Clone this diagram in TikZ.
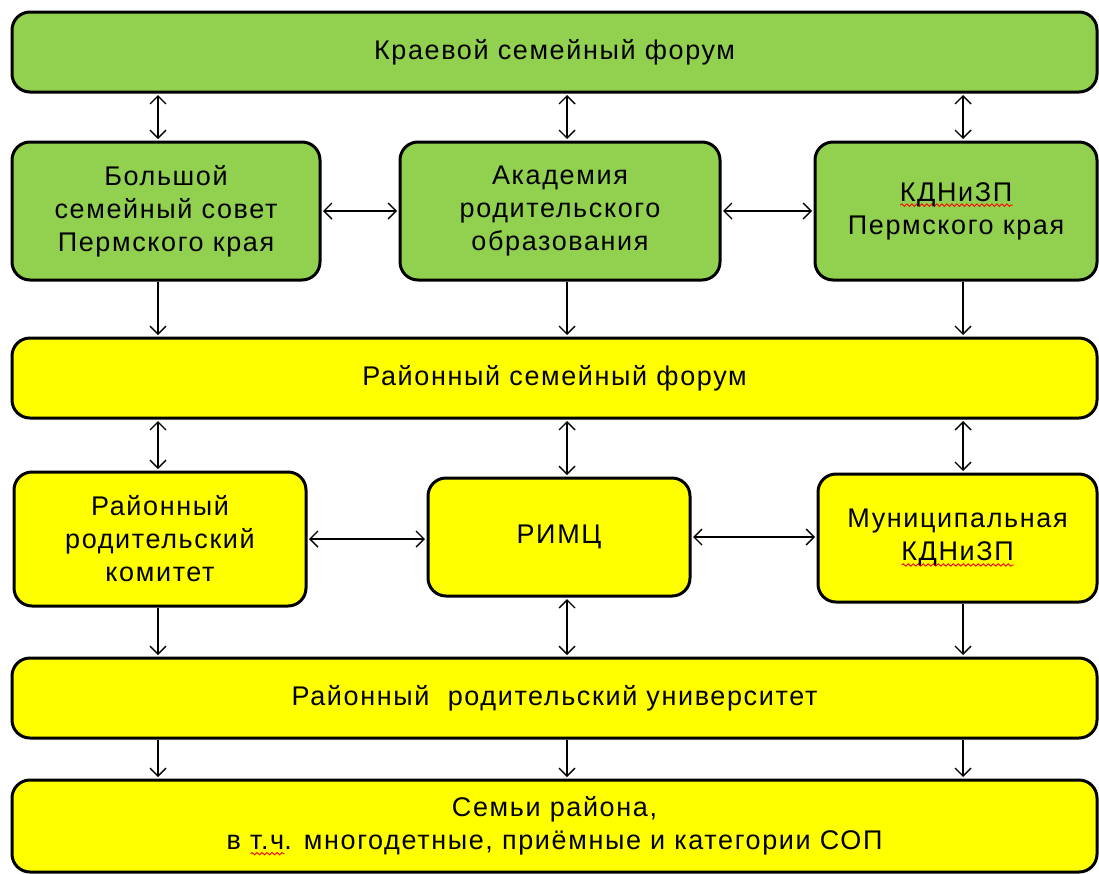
\documentclass[tikz,border=0pt]{standalone}
\usepackage{fontspec}
\setmainfont{Liberation Sans}[LetterSpace=6]
\usetikzlibrary{arrows.meta,decorations.pathmorphing}
\definecolor{forumgreen}{HTML}{92D050}
\definecolor{forumyellow}{HTML}{FFFF00}
\newcommand{\spellmark}[1]{\setbox0=\hbox{#1}\rlap{\tikz[baseline=0pt, x=1pt, y=1pt]\draw[red, line width=0.9pt, sharp corners, decorate, decoration={snake, amplitude=1.2pt, segment length=5pt}] (0pt,-4pt) -- (\wd0,-4pt);}\box0}
\begin{document}
\begin{tikzpicture}[x=1pt, y=-1pt,
    box/.style={draw, line width=3pt, rounded corners=18pt, align=center, inner sep=0pt,
        font=\fontsize{27}{33}\selectfont},
    greenbox/.style={box, fill=forumgreen},
    yellowbox/.style={box, fill=forumyellow},
    barb/.tip={Straight Barb[length=8pt, width=16pt]},
    twoway/.style={line width=1.4pt, barb-barb, shorten <=1.5pt, shorten >=1.5pt},
    oneway/.style={line width=1.4pt, -barb, shorten >=1.5pt}]
    \useasboundingbox (0,0) rectangle (1099,873);
    \clip (0,0) rectangle (1099,873);
    \coordinate (c1) at (158,0);
    \coordinate (c2) at (567,0);
    \coordinate (c3) at (963,0);

    \node[greenbox, minimum width=1085, minimum height=80] (kraevoy) at (554.5,52) {Краевой семейный форум};
    \node[greenbox, minimum width=308, minimum height=138] (bsovet) at (166,211) {Большой\\семейный совет\\Пермского края};
    \node[greenbox, minimum width=320, minimum height=138] (akadem) at (560,211) {Академия\\родительского\\образования};
    \node[greenbox, minimum width=282, minimum height=138] (kdn) at (956,211) {\spellmark{КДНиЗП}\\Пермского края};
    \node[yellowbox, minimum width=1085, minimum height=80] (rforum) at (554.5,378) {Районный семейный форум};
    \node[yellowbox, minimum width=292, minimum height=134] (rkomitet) at (160,539) {Районный\\родительский\\комитет};
    \node[yellowbox, minimum width=262, minimum height=118] (rimc) at (559,537) {\raisebox{-4pt}{РИМЦ}};
    \node[yellowbox, minimum width=279, minimum height=128] (munic) at (957.5,538) {Муниципальная\\\spellmark{КДНиЗП}};
    \node[yellowbox, minimum width=1085, minimum height=80] (runiv) at (554.5,698) {Районный\ \ родительский университет};
    \node[yellowbox, minimum width=1085, minimum height=92] (semyi) at (554.5,826) {Семьи района,\\в \spellmark{т.ч}. многодетные, приёмные и категории СОП};

    \draw[twoway] (kraevoy.south -| c1) -- (bsovet.north -| c1);
    \draw[twoway] (kraevoy.south -| c2) -- (akadem.north -| c2);
    \draw[twoway] (kraevoy.south -| c3) -- (kdn.north -| c3);
    \draw[twoway] (bsovet.east) -- (bsovet.east -| akadem.west);
    \draw[twoway] (akadem.east) -- (akadem.east -| kdn.west);
    \draw[oneway] (bsovet.south -| c1) -- (rforum.north -| c1);
    \draw[oneway] (akadem.south -| c2) -- (rforum.north -| c2);
    \draw[oneway] (kdn.south -| c3) -- (rforum.north -| c3);
    \draw[twoway] (rforum.south -| c1) -- (rkomitet.north -| c1);
    \draw[twoway] (rforum.south -| c2) -- (rimc.north -| c2);
    \draw[twoway] (rforum.south -| c3) -- (munic.north -| c3);
    \draw[twoway] (rkomitet.east) -- (rkomitet.east -| rimc.west);
    \draw[twoway] (rimc.east) -- (rimc.east -| munic.west);
    \draw[oneway] (rkomitet.south -| c1) -- (runiv.north -| c1);
    \draw[twoway] (rimc.south -| c2) -- (runiv.north -| c2);
    \draw[oneway] (munic.south -| c3) -- (runiv.north -| c3);
    \draw[oneway] (runiv.south -| c1) -- (semyi.north -| c1);
    \draw[oneway] (runiv.south -| c2) -- (semyi.north -| c2);
    \draw[oneway] (runiv.south -| c3) -- (semyi.north -| c3);
\end{tikzpicture}
\end{document}
